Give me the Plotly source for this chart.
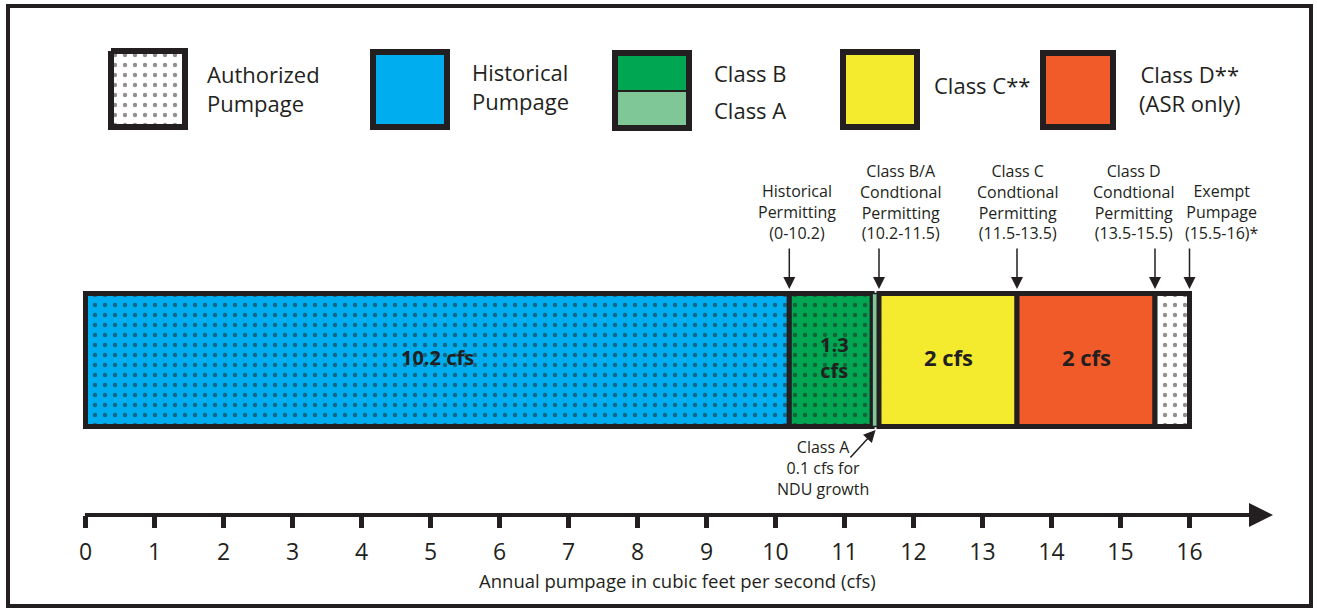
import plotly.graph_objects as go

# ---------------- data ----------------
segment_names = ["Historical", "Class B", "Class A", "Class C", "Class D", "Exempt"]
segment_values = [10.2, 1.2, 0.1, 2, 2, 0.5]          # cfs
segment_colors = ["#00aeef", "#00a651", "#7fc796", "#f4ea2e", "#f15a29", "#ffffff"]
segment_dotted = [True, True, False, False, False, True]

tick_values = list(range(0, 17))
tick_labels = [str(v) for v in tick_values]

permit_labels = [
    "Historical<br>Permitting<br>(0-10.2)",
    "Class B/A<br>Condtional<br>Permitting<br>(10.2-11.5)",
    "Class C<br>Condtional<br>Permitting<br>(11.5-13.5)",
    "Class D<br>Condtional<br>Permitting<br>(13.5-15.5)",
    "Exempt<br>Pumpage<br>(15.5-16)*",
]
permit_ends = [10.2, 11.5, 13.5, 15.5, 16.0]

legend_labels = ["Authorized<br>Pumpage", "Historical<br>Pumpage", "Class B", "Class A",
                 "Class C**", "Class D**<br>(ASR only)"]

axis_title = "Annual pumpage in cubic feet per second (cfs)"

# ---------------- layout constants ----------------
W, H = 1317, 612
X0_PX, PX_PER_UNIT = 85.5, 69.0
DARK = "#231f20"
FONT = "Open Sans"
BAR_Y, BAR_W = 360, 133
AXIS_Y = 515

def px_to_x(px):
    return (px - X0_PX) / PX_PER_UNIT

bases = []
acc = 0.0
for v in segment_values:
    bases.append(acc)
    acc += v

fig = go.Figure()

# bars
for name, v, b, c, dotted in zip(segment_names, segment_values, bases, segment_colors, segment_dotted):
    lw = 1.5 if name == "Class A" else 5
    pattern = dict(shape=".", fgcolor=DARK, bgcolor=c, size=10, solidity=0.15) if dotted else dict(shape="")
    fig.add_trace(go.Bar(
        x=[v], y=[BAR_Y], base=[b], width=[BAR_W], orientation="h", name=name,
        marker=dict(color=c, line=dict(color=DARK, width=lw), pattern=pattern),
        xaxis="x", yaxis="y", showlegend=False, hoverinfo="skip",
    ))

# bar labels
label_specs = [
    (bases[0] + segment_values[0] / 2, f"{segment_values[0]} cfs", 20),
    ((bases[1] + bases[3]) / 2, f"{round(segment_values[1] + segment_values[2], 1)}<br>cfs", 20),
    (bases[3] + segment_values[3] / 2, f"{segment_values[3]} cfs", 22),
    (bases[4] + segment_values[4] / 2, f"{segment_values[4]} cfs", 22),
]
for xv, txt, fs in label_specs:
    fig.add_annotation(x=xv, y=BAR_Y - 3, xref="x", yref="y", text=f"<b>{txt}</b>",
                       showarrow=False, font=dict(family=FONT, size=fs, color=DARK))

# permitting arrows + texts
text_px = [797, 900, 1017, 1133, 1222]
for xv, tx, txt in zip(permit_ends, text_px, permit_labels):
    fig.add_annotation(x=xv, y=289, xref="x", yref="y", ax=0, ay=-42, text="",
                       showarrow=True, arrowhead=2, arrowsize=1.6, arrowwidth=1.5, arrowcolor=DARK)
    fig.add_annotation(x=tx, y=246, xref="x2", yref="y", text=txt, showarrow=False,
                       yanchor="bottom", font=dict(family=FONT, size=16, color=DARK))

# Class A note
fig.add_annotation(x=bases[2] + segment_values[2] / 2, y=430, xref="x", yref="y",
                   ax=px_to_x(849), ay=459, axref="x", ayref="y", text="", showarrow=True,
                   arrowhead=2, arrowsize=1.6, arrowwidth=1.5, arrowcolor=DARK)
fig.add_annotation(x=823, y=434, xref="x2", yref="y", yanchor="top",
                   text="Class A<br>0.1 cfs for<br>NDU growth", showarrow=False,
                   font=dict(family=FONT, size=16, color=DARK))

# axis line with arrow
fig.add_annotation(x=px_to_x(1273), y=AXIS_Y, ax=-0.03, ay=AXIS_Y, xref="x", yref="y", axref="x", ayref="y",
                   text="", showarrow=True, arrowhead=2, arrowsize=1.2, arrowwidth=4, arrowcolor=DARK)

# axis title
fig.add_annotation(x=677, y=580, xref="x2", yref="y", text=axis_title, showarrow=False,
                   font=dict(family=FONT, size=18.5, color=DARK))

# legend swatches
def rect_path(x0, y0, x1, y1):
    return [x0, x1, x1, x0, x0], [y0, y0, y1, y1, y0]

sx, sy = rect_path(111, 51, 185, 127)
fig.add_trace(go.Scatter(x=sx, y=sy, xaxis="x2", yaxis="y", mode="lines", fill="toself",
                         fillcolor="white",
                         fillpattern=dict(shape=".", fgcolor=DARK, bgcolor="white", size=10, solidity=0.15),
                         line=dict(color=DARK, width=6), showlegend=False, hoverinfo="skip"))

shapes = []
def box(x0, y0, x1, y1, fill, lw=6):
    shapes.append(dict(type="rect", xref="x2", yref="y", x0=x0, y0=y0, x1=x1, y1=y1,
                       fillcolor=fill, line=dict(color=DARK, width=lw)))

box(373, 52, 447, 127, segment_colors[0])
box(615, 53, 689, 91, segment_colors[1], lw=0)
box(615, 91, 689, 128, segment_colors[2], lw=0)
shapes.append(dict(type="line", xref="x2", yref="y", x0=615, x1=689, y0=91, y1=91,
                   line=dict(color=DARK, width=2)))
box(615, 53, 689, 128, "rgba(0,0,0,0)")
box(843, 52, 917, 127, segment_colors[3])
box(1043, 53, 1113, 127, segment_colors[4])
# outer frame
shapes.append(dict(type="rect", xref="x2", yref="y", x0=8, y0=6, x1=1311, y1=606,
                   line=dict(color=DARK, width=4), fillcolor="rgba(0,0,0,0)"))

legend_pos = [(205, 88, "left"), (470, 86, "left"), (712, 73, "left"), (712, 110, "left"),
              (932, 85, "left"), (1190, 88, "center")]
for (lx, ly, al), txt in zip(legend_pos, legend_labels):
    fig.add_annotation(x=lx, y=ly, xref="x2", yref="y", text=txt, showarrow=False,
                       xanchor=al, align=al, font=dict(family=FONT, size=22, color=DARK))

x_lo = px_to_x(0)
x_hi = px_to_x(W)

fig.update_layout(
    width=W, height=H, margin=dict(l=0, r=0, t=0, b=0),
    paper_bgcolor="white", plot_bgcolor="white",
    barmode="overlay", shapes=shapes,
    xaxis=dict(range=[x_lo, x_hi], domain=[0, 1], anchor="free", position=(H - AXIS_Y) / H,
               tickmode="array", tickvals=tick_values, ticktext=tick_labels,
               ticks="outside", ticklen=12, tickwidth=5, tickcolor=DARK,
               showgrid=False, zeroline=False, showline=False, fixedrange=True,
               tickfont=dict(family=FONT, size=23, color=DARK), ticklabelstandoff=4),
    xaxis2=dict(range=[0, W], overlaying="x", visible=False, fixedrange=True),
    yaxis=dict(range=[H, 0], domain=[0, 1], visible=False, fixedrange=True),
)

fig.write_html("out.html", config={"displayModeBar": False},
               post_script="document.body.style.margin='0';document.body.style.overflow='hidden';")
